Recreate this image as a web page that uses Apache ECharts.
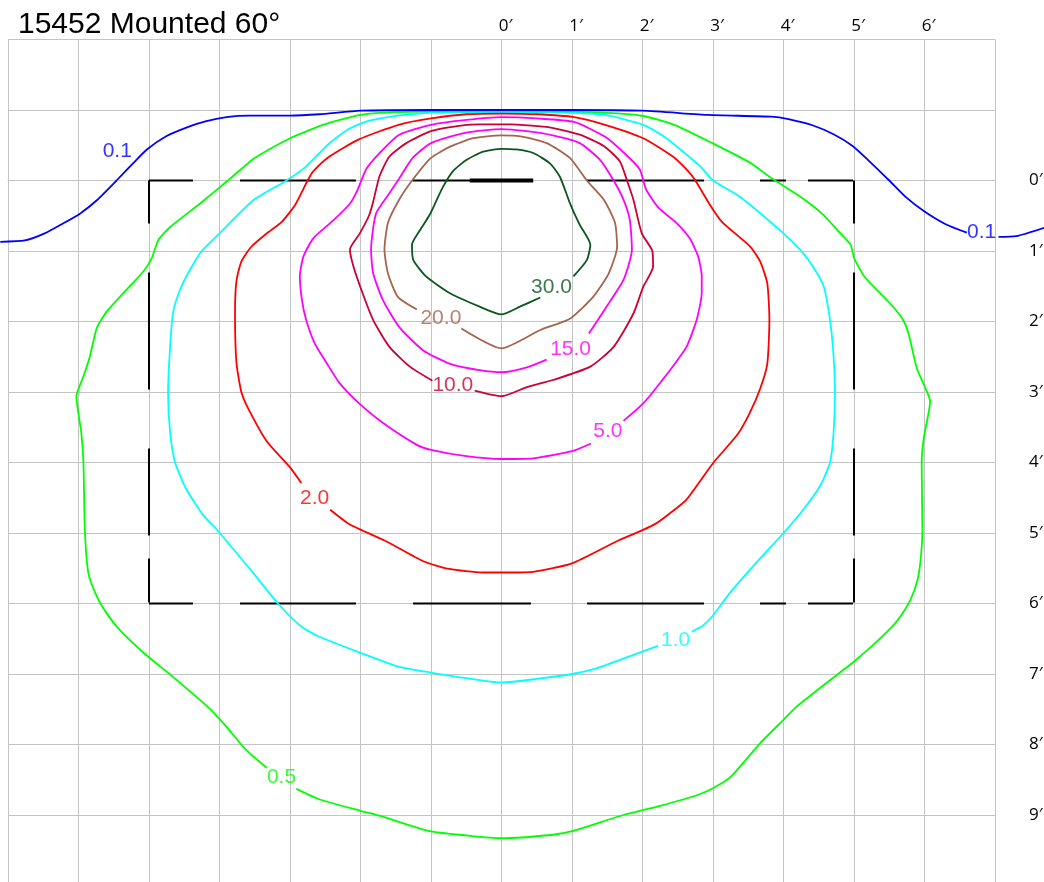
<!DOCTYPE html>
<html><head><meta charset="utf-8">
<script src="https://cdn.jsdelivr.net/npm/echarts@6/dist/echarts.min.js"></script>
<style>html,body{margin:0;padding:0;background:#fff}#c{width:1044px;height:882px}</style>
</head><body><div id="c"></div>
<script>
// ---------- data (feet; x to the right, y downward from the luminaire) ----------
const titleText = '15452 Mounted 60°';
const xTickLabels = {0:'0′',1:'1′',2:'2′',3:'3′',4:'4′',5:'5′',6:'6′'};
const yTickLabels = {0:'0′',1:'1′',2:'2′',3:'3′',4:'4′',5:'5′',6:'6′',7:'7′',8:'8′',9:'9′'};

const levels = ['0.1','0.5','1.0','2.0','5.0','10.0','15.0','20.0','30.0'];

const contour01 = [[-7.11,0.87],[-6.76,0.85],[-6.48,0.75],[-6.22,0.61],[-5.98,0.47],[-5.74,0.28],[-5.46,0.0],[-5.22,-0.25],[-5.03,-0.44],[-4.75,-0.63],[-4.47,-0.75],[-4.2,-0.84],[-3.9,-0.9],[-3.57,-0.92],[-3.0,-0.92],[-2.58,-0.94],[-2.0,-0.99],[-1.0,-1.0],[0,-1.0],[1.0,-1.0],[2.0,-0.99],[2.94,-0.93],[3.83,-0.905],[4.07,-0.87],[4.42,-0.78],[4.71,-0.655],[4.98,-0.49],[5.2,-0.29],[5.5,0.0],[5.74,0.24],[6.0,0.44],[6.3,0.62],[6.6,0.74]];
const contour01Tail = [[7.05,0.8],[7.3,0.79],[7.7,0.67]];

const contour05 = [[-2.91,8.63],[-2.58,8.78],[-2.0,8.94],[-1.73,9.01],[-1.02,9.23],[-0.5,9.29],[0,9.33],[0.73,9.28],[1.0,9.23],[1.73,9.0],[2.25,8.87],[2.77,8.72],[3.0,8.62],[3.25,8.46],[3.67,7.98],[4.0,7.65],[4.19,7.46],[4.76,7.01],[4.98,6.84],[5.28,6.58],[5.52,6.35],[5.66,6.18],[5.8,5.95],[5.9,5.67],[5.95,5.33],[5.97,4.95],[5.96,4.01],[5.99,3.65],[6.08,3.13],[6.01,2.94],[5.89,2.66],[5.77,2.16],[5.68,1.95],[5.49,1.72],[5.16,1.38],[5.01,1.12],[4.95,0.91],[4.76,0.7],[4.57,0.49],[4.24,0.23],[3.88,0],[3.75,-0.09],[3.53,-0.25],[2.99,-0.53],[2.45,-0.79],[2.01,-0.915],[1.5,-0.96],[0,-0.98],[-1.5,-0.97],[-2.0,-0.93],[-2.5,-0.8],[-3.0,-0.6],[-3.5,-0.32],[-3.88,0],[-4.28,0.33],[-4.7,0.66],[-4.87,0.85],[-4.96,1.1],[-5.08,1.29],[-5.32,1.55],[-5.6,1.86],[-5.74,2.09],[-5.84,2.5],[-5.93,2.78],[-6.03,3.06],[-5.96,3.58],[-5.93,4.0],[-5.91,4.95],[-5.86,5.57],[-5.74,5.9],[-5.6,6.14],[-5.41,6.38],[-5.04,6.73],[-4.66,7.04],[-4.14,7.49],[-3.9,7.75],[-3.62,8.08],[-3.33,8.33]];

const contour1 = [[2.7,6.4],[2.86,6.31],[3.0,6.17],[3.24,5.85],[3.57,5.47],[4.0,5.0],[4.28,4.67],[4.52,4.33],[4.66,4.0],[4.71,3.58],[4.73,3.01],[4.71,2.49],[4.66,1.98],[4.57,1.5],[4.43,1.24],[4.26,1.01],[4.0,0.75],[3.38,0.23],[3.0,0],[2.82,-0.2],[2.55,-0.43],[2.31,-0.62],[2.01,-0.79],[1.47,-0.93],[1.0,-0.96],[0,-0.97],[-1.0,-0.96],[-1.47,-0.92],[-1.87,-0.85],[-2.15,-0.74],[-2.44,-0.53],[-2.77,-0.2],[-3.05,0],[-3.52,0.28],[-4.0,0.75],[-4.26,1.01],[-4.42,1.27],[-4.56,1.55],[-4.66,1.88],[-4.7,2.35],[-4.73,3.01],[-4.7,3.58],[-4.63,4.0],[-4.47,4.38],[-4.23,4.75],[-4.04,4.95],[-3.52,5.57],[-3.17,6.0],[-2.86,6.31],[-2.63,6.45],[-2.0,6.7],[-1.45,6.9],[-1.0,6.98],[-0.5,7.06],[0,7.12],[0.5,7.07],[1.0,7.0],[1.35,6.92],[1.68,6.8],[2.22,6.6]];

const contour2 = [[-2.43,4.67],[-2.15,4.88],[-1.63,5.12],[-1.11,5.4],[-0.74,5.51],[-0.27,5.56],[0.11,5.56],[0.45,5.55],[1.0,5.43],[1.63,5.12],[2.0,4.96],[2.2,4.86],[2.39,4.72],[2.62,4.53],[3.0,4.01],[3.35,3.6],[3.52,3.3],[3.67,2.95],[3.77,2.6],[3.8,1.98],[3.77,1.46],[3.67,1.15],[3.53,0.94],[3.13,0.59],[2.96,0.35],[2.75,0],[2.65,-0.13],[2.43,-0.34],[2.01,-0.6],[1.47,-0.79],[1.03,-0.9],[0.5,-0.94],[0,-0.95],[-0.5,-0.94],[-1.0,-0.88],[-1.46,-0.79],[-2.03,-0.58],[-2.44,-0.34],[-2.67,-0.13],[-2.75,0],[-2.93,0.35],[-3.12,0.59],[-3.33,0.75],[-3.55,0.94],[-3.69,1.15],[-3.76,1.43],[-3.78,1.88],[-3.76,2.58],[-3.69,3.0],[-3.59,3.24],[-3.33,3.7],[-3.0,4.07],[-2.84,4.29]];

const contour5 = [[1.73,3.41],[1.97,3.2],[2.1,3.06],[2.29,2.82],[2.48,2.57],[2.63,2.35],[2.77,1.97],[2.84,1.6],[2.84,1.36],[2.79,1.08],[2.67,0.82],[2.48,0.6],[2.24,0.4],[2.12,0.24],[2.04,0.1],[1.96,-0.16],[1.74,-0.39],[1.47,-0.62],[1.03,-0.83],[0.5,-0.88],[0,-0.9],[-0.5,-0.86],[-1.0,-0.79],[-1.45,-0.65],[-1.73,-0.39],[-1.92,-0.16],[-2.04,0.13],[-2.15,0.33],[-2.39,0.57],[-2.67,0.82],[-2.81,1.08],[-2.86,1.36],[-2.83,1.7],[-2.77,1.98],[-2.65,2.31],[-2.48,2.59],[-2.3,2.87],[-2.0,3.18],[-1.68,3.44],[-1.2,3.75],[-1.0,3.82],[-0.5,3.91],[0,3.95],[0.45,3.94],[1.0,3.84],[1.27,3.73]];

const contour10 = [[-0.38,2.98],[0,3.06],[0.36,2.93],[0.73,2.83],[1.26,2.64],[1.59,2.36],[1.87,1.89],[2.01,1.51],[2.15,1.22],[2.14,1.0],[1.99,0.75],[1.87,0.27],[1.78,0],[1.68,-0.27],[1.45,-0.49],[1.11,-0.65],[0.64,-0.76],[0,-0.8],[-0.5,-0.79],[-1.0,-0.7],[-1.35,-0.53],[-1.59,-0.34],[-1.73,-0.06],[-1.82,0.3],[-1.88,0.5],[-2.01,0.75],[-2.15,0.98],[-2.1,1.22],[-1.97,1.6],[-1.82,1.98],[-1.59,2.36],[-1.3,2.64],[-0.98,2.84]];

const contour15 = [[1.24,2.17],[1.49,1.79],[1.73,1.41],[1.85,0.98],[1.82,0.56],[1.73,0.27],[1.59,0],[1.4,-0.29],[1.11,-0.53],[0.73,-0.64],[0.36,-0.7],[0,-0.73],[-0.5,-0.68],[-1.0,-0.53],[-1.26,-0.32],[-1.45,-0.03],[-1.59,0.18],[-1.78,0.47],[-1.85,0.98],[-1.82,1.32],[-1.68,1.7],[-1.45,2.08],[-1.11,2.41],[-0.73,2.6],[-0.31,2.69],[0,2.72],[0.36,2.65],[0.64,2.54]];

const contour20 = [[-0.57,2.1],[0,2.38],[0.55,2.12],[0.97,1.96],[1.3,1.65],[1.52,1.32],[1.64,0.94],[1.61,0.6],[1.45,0.27],[1.21,0],[0.97,-0.32],[0.64,-0.53],[0.31,-0.62],[0,-0.64],[-0.4,-0.6],[-0.73,-0.48],[-1.0,-0.32],[-1.26,-0.01],[-1.45,0.27],[-1.61,0.6],[-1.66,0.98],[-1.61,1.32],[-1.47,1.65],[-1.2,1.83]];

const contour30 = [[1.02,1.36],[1.21,1.13],[1.26,0.91],[1.11,0.63],[0.97,0.32],[0.83,-0.05],[0.69,-0.24],[0.45,-0.39],[0.21,-0.44],[0,-0.45],[-0.26,-0.41],[-0.5,-0.29],[-0.69,-0.13],[-0.83,0.09],[-0.93,0.3],[-1.02,0.49],[-1.16,0.71],[-1.27,0.91],[-1.25,1.13],[-1.07,1.36],[-0.73,1.6],[-0.31,1.79],[0,1.9],[0.26,1.79],[0.55,1.66]];

const innerContours = [contour05, contour1, contour2, contour5, contour10, contour15, contour20, contour30];

const labelTexts  = ['0.1','0.1','0.5','1.0','2.0','5.0','10.0','15.0','20.0','30.0'];
const labelLevels = [0,0,1,2,3,4,5,6,7,8];
const labelPoints = [[-5.45,-0.42],[6.81,0.74],[-3.12,8.46],[2.47,6.52],[-2.65,4.51],[1.51,3.56],[-0.69,2.91],[0.98,2.4],[-0.86,1.95],[0.71,1.52]];

const boxCorners = [[-5,0],[5,0],[5,6],[-5,6]];
const luminaire = [[-0.45,0],[0.45,0]];

// ---------- styles / layout ----------
const levelColors = ['#0000ff','#00ff00','#00ffff','#ff0000','#ff00ff','#cc0033','#ff00ff','#a5644e','#0a561f'];
const hDash = [44,47,116,57,118,56,117,56,26,22,45];
const vDash = [43,49,117,59,87,23,44];
const gridColor = '#c4c4c4';
const pxPerFoot = 70.5, originPx = 501.5, canvasW = 1044;

const chart = echarts.init(document.getElementById('c'), null, {renderer:'canvas'});

const series = [];
const edges = [[boxCorners[0],boxCorners[1],hDash],[boxCorners[3],boxCorners[2],hDash],[boxCorners[0],boxCorners[3],vDash],[boxCorners[1],boxCorners[2],vDash]];
edges.forEach(e => series.push({
  type:'line', data:[e[0],e[1]], showSymbol:false, silent:true, z:2,
  lineStyle:{color:'#000', width:2, type:e[2], cap:'butt'}
}));
series.push({type:'line', data:luminaire, showSymbol:false, silent:true, z:3,
  lineStyle:{color:'#000', width:4, cap:'butt'}});

innerContours.forEach((c,i) => series.push({
  type:'line', name:levels[i+1], data:c, showSymbol:false, smooth:0.2, silent:true, z:4,
  lineStyle:{color:levelColors[i+1], width:1.8}
}));
// the 0.1 line runs past the plotted frame, so it uses a full-width companion grid with the same scale
[contour01, contour01Tail].forEach(c => series.push({
  type:'line', name:levels[0], data:c, xAxisIndex:1, yAxisIndex:1, showSymbol:false, smooth:0.2, silent:true, clip:false, z:4,
  lineStyle:{color:levelColors[0], width:1.8}
}));

series.push({
  type:'scatter', silent:true, z:6, symbolSize:1, clip:false, itemStyle:{color:'rgba(0,0,0,0)'},
  data: labelPoints.map((p,k)=>({value:p, name:labelTexts[k], label:{color:levelColors[labelLevels[k]]}})),
  label:{show:true, position:'inside', formatter:p=>p.name, fontFamily:'Liberation Sans, Arial, sans-serif', fontSize:21}
});

chart.setOption({
  animation:false,
  backgroundColor:'#fff',
  title:{text:titleText, left:13, top:5, textStyle:{fontFamily:'Liberation Sans, Arial, sans-serif', fontSize:30, fontWeight:'normal', color:'#000'}},
  grid:[
    {left:8, top:39.5, width:987, height:846, containLabel:false, outerBoundsMode:'none'},
    {left:0, top:39.5, width:canvasW, height:846, containLabel:false, outerBoundsMode:'none'}
  ],
  xAxis:[
    {type:'value', gridIndex:0, min:-7, max:7, interval:1, position:'top',
     axisLine:{show:true, lineStyle:{color:gridColor, width:1}}, axisTick:{show:false},
     splitLine:{show:true, lineStyle:{color:gridColor, width:1}},
     axisLabel:{margin:5, formatter:v=>xTickLabels[v]||'', fontFamily:'Open Sans', fontSize:17, color:'#000', padding:[0,0,0,8]}},
    {type:'value', gridIndex:1, show:false, min:-originPx/pxPerFoot, max:(canvasW-originPx)/pxPerFoot}
  ],
  yAxis:[
    {type:'value', gridIndex:0, min:-2, max:10, interval:1, inverse:true, position:'right',
     axisLine:{show:true, lineStyle:{color:gridColor, width:1}}, axisTick:{show:false},
     splitLine:{show:true, lineStyle:{color:gridColor, width:1}},
     axisLabel:{margin:34, formatter:v=>yTickLabels[v]||'', fontFamily:'Open Sans', fontSize:17, color:'#000', align:'left'}},
    {type:'value', gridIndex:1, show:false, min:-2, max:10, inverse:true}
  ],
  series: series
});
</script></body></html>
